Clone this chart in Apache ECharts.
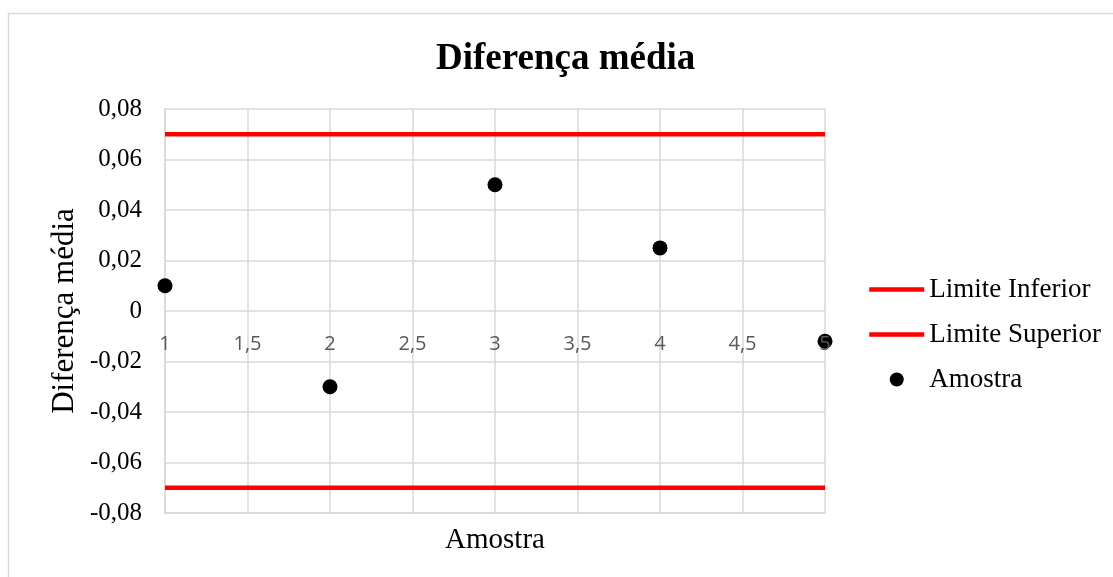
<!DOCTYPE html>
<html>
<head>
<meta charset="utf-8">
<script src="https://cdn.jsdelivr.net/npm/echarts@6/dist/echarts.min.js"></script>
<style>
html,body{margin:0;padding:0;background:#fff;}
#chart{width:1113px;height:577px;}
</style>
</head>
<body>
<div id="chart"></div>
<script>
// Data
const amostraX = [1, 2, 3, 4, 5];
const amostraY = [0.01, -0.03, 0.05, 0.025, -0.012];
const limiteInferior = -0.07;
const limiteSuperior = 0.07;
const titleText = 'Diferença média';
const xAxisName = 'Amostra';
const yAxisName = 'Diferença média';
const seriesNames = ['Limite Inferior', 'Limite Superior', 'Amostra'];

const chart = echarts.init(document.getElementById('chart'));
const serif = '"Liberation Serif", "Times New Roman", serif';
const fmtComma = v => String(v).replace('.', ',');
const gridLine = { color: '#d9d9d9', width: 1.5 };

const option = {
  animation: false,
  backgroundColor: '#fff',
  title: {
    text: titleText,
    left: 431,
    top: 36,
    textStyle: { fontFamily: serif, fontWeight: 'bold', fontSize: 37, color: '#000' }
  },
  legend: {
    orient: 'vertical',
    left: 867,
    top: 276,
    padding: 0,
    itemWidth: 55,
    itemHeight: 14,
    itemGap: 18,
    itemTextGap: 3,
    data: [
      { name: seriesNames[0], lineStyle: { width: 4.5, color: '#ff0000' } },
      { name: seriesNames[1], lineStyle: { width: 4.5, color: '#ff0000' } },
      { name: seriesNames[2], icon: 'circle' }
    ],
    textStyle: { fontFamily: serif, fontSize: 27, color: '#000', lineHeight: 27 }
  },
  grid: { left: 165, top: 109, width: 660, height: 404, containLabel: false },
  xAxis: [
    {
      type: 'value',
      min: 1, max: 5, interval: 0.5,
      axisLine: { show: true, onZero: false, lineStyle: gridLine },
      axisTick: { show: false },
      splitLine: { show: true, lineStyle: gridLine },
      axisLabel: { show: false }
    },
    {
      type: 'value',
      min: 1, max: 5, interval: 0.5,
      position: 'bottom',
      offset: -202,
      z: 10,
      axisLine: { show: false, onZero: false },
      axisTick: { show: false },
      splitLine: { show: false },
      axisLabel: {
        margin: 23,
        color: '#595959',
        fontFamily: '"Open Sans", "Noto Sans", sans-serif',
        fontSize: 20,
        showMaxLabel: true,
        showMinLabel: true,
        formatter: fmtComma
      }
    }
  ],
  yAxis: {
    type: 'value',
    min: -0.08, max: 0.08, interval: 0.02,
    axisLine: { show: true, lineStyle: gridLine },
    axisTick: { show: false },
    splitLine: { show: true, lineStyle: gridLine },
    axisLabel: {
      margin: 23,
      color: '#000',
      fontFamily: serif,
      fontSize: 25,
      formatter: v => (Math.abs(v) < 1e-9 ? '0' : v.toFixed(2).replace('.', ','))
    }
  },
  graphic: [
    {
      type: 'rect', silent: true, z: -10,
      shape: { x: 8.5, y: 13.5, width: 1300, height: 800 },
      style: { fill: 'none', stroke: '#d9d9d9', lineWidth: 1.5 }
    },
    {
      type: 'text', x: 495, y: 540,
      style: { text: xAxisName, font: '29px ' + serif, fill: '#000', textAlign: 'center', textVerticalAlign: 'middle' }
    },
    {
      type: 'text', x: 65, y: 311, rotation: Math.PI / 2,
      style: { text: yAxisName, font: '31px ' + serif, fill: '#000', textAlign: 'center', textVerticalAlign: 'middle' }
    }
  ],
  series: [
    {
      name: seriesNames[0],
      type: 'line',
      xAxisIndex: 0,
      symbol: 'none',
      itemStyle: { color: '#ff0000', opacity: 0 },
      lineStyle: { color: '#ff0000', width: 4.5, opacity: 1 },
      data: [[amostraX[0], limiteInferior], [amostraX[amostraX.length - 1], limiteInferior]],
      z: 3
    },
    {
      name: seriesNames[1],
      type: 'line',
      xAxisIndex: 0,
      symbol: 'none',
      itemStyle: { color: '#ff0000', opacity: 0 },
      lineStyle: { color: '#ff0000', width: 4.5, opacity: 1 },
      data: [[amostraX[0], limiteSuperior], [amostraX[amostraX.length - 1], limiteSuperior]],
      z: 3
    },
    {
      name: seriesNames[2],
      type: 'scatter',
      xAxisIndex: 0,
      symbol: 'circle',
      symbolSize: 15,
      itemStyle: { color: '#000', opacity: 1 },
      data: amostraX.map((x, i) => [x, amostraY[i]]),
      z: 4
    }
  ]
};
chart.setOption(option);
</script>
</body>
</html>
